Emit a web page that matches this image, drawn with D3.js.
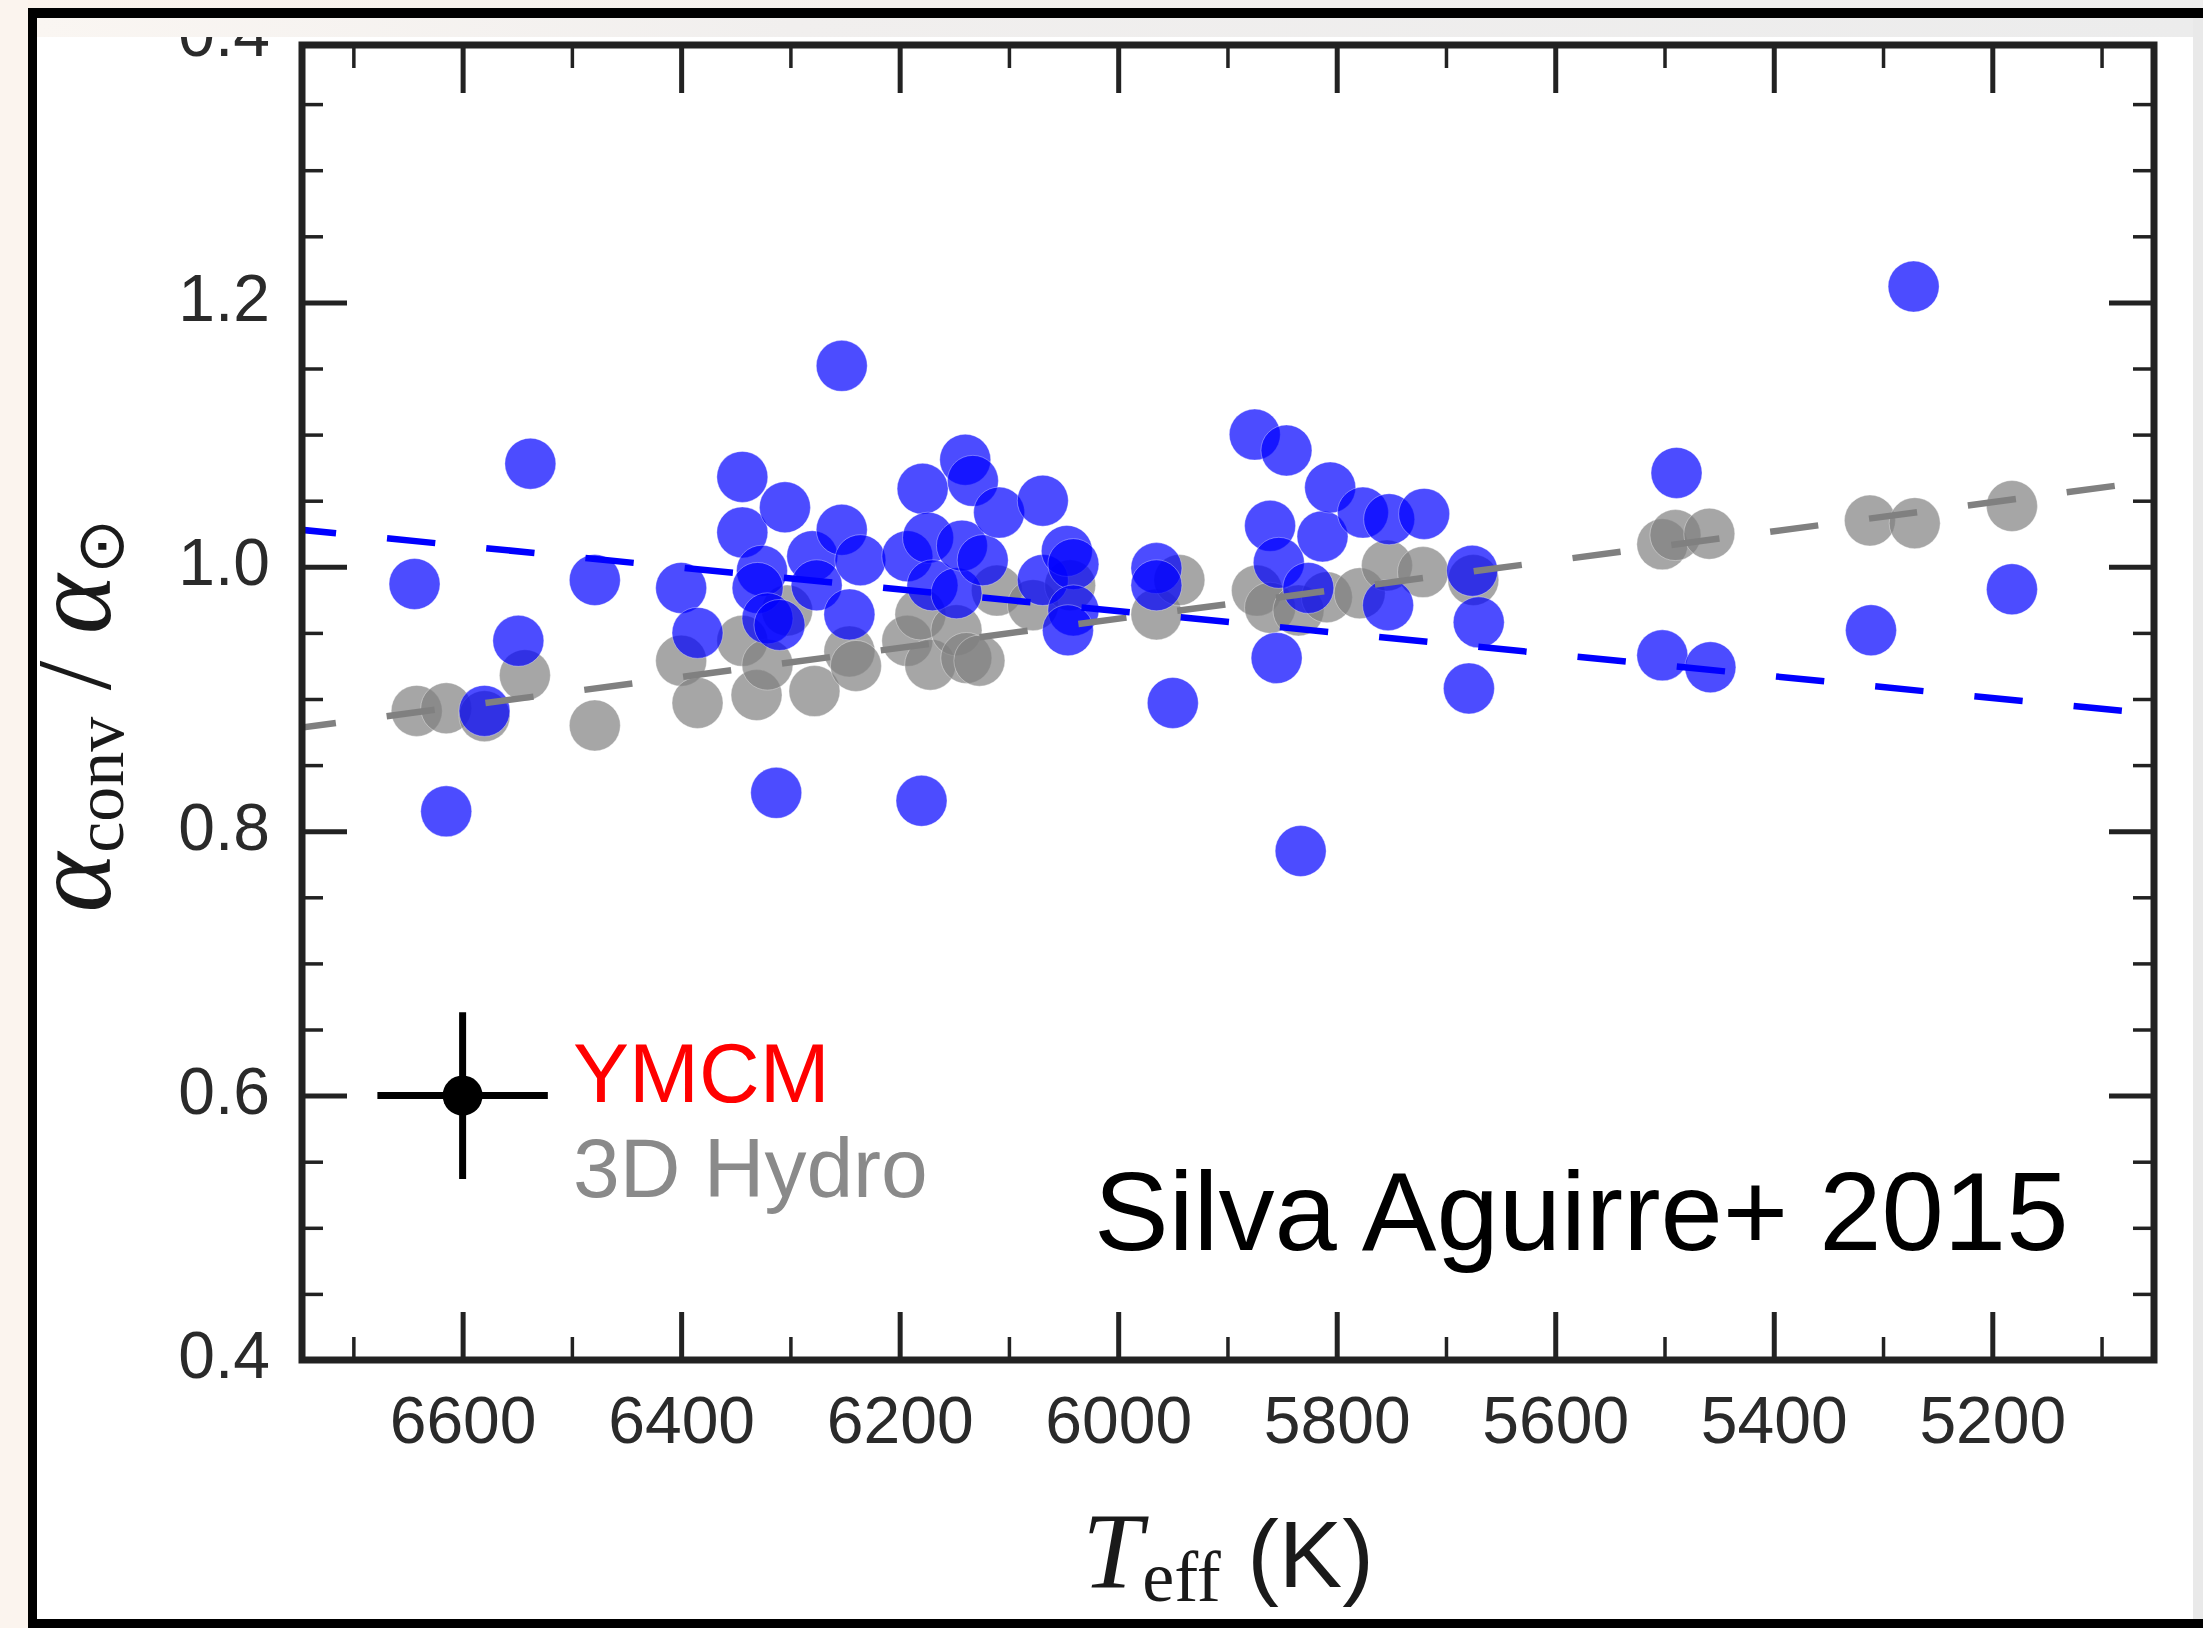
<!DOCTYPE html>
<html>
<head>
<meta charset="utf-8">
<script src="https://cdn.jsdelivr.net/npm/d3@7"></script>
<style>
  body { margin: 0; background: #fff; }
  svg { display: block; }
</style>
</head>
<body>
<svg id="chart" width="2203" height="1628"></svg>
<script>
// Mixing-length parameter relative to solar, against effective temperature (K)
// Blue: YMCM calibration; grey: 3D hydrodynamical simulations.
const ymcmTeff = [6644, 6615, 6580, 6549, 6538, 6479, 6400, 6385, 6344, 6344, 6326, 6330, 6321, 6310,
  6313, 6305, 6280, 6276, 6253, 6236, 6246, 6253, 6193, 6179, 6174, 6170, 6148, 6143, 6140, 6133,
  6124, 6109, 6069, 6069, 6047, 6041, 6041, 6046, 6180, 5965, 5965, 5950, 5875, 5846, 5861, 5853,
  5855, 5833, 5826, 5813, 5806, 5776, 5752, 5720, 5753, 5676, 5670, 5679, 5489, 5502, 5458, 5311,
  5272, 5182];
const ymcmAlpha = [0.987, 0.815, 0.891, 0.944, 1.078, 0.990, 0.984, 0.950, 1.068, 1.026, 0.997, 0.984, 0.961, 0.956,
  0.829, 1.045, 1.008, 0.986, 1.028, 1.005, 0.964, 1.152, 1.008, 1.059, 1.022, 0.986, 0.980, 1.016, 1.081, 1.065,
  1.005, 1.041, 1.050, 0.990, 1.012, 1.002, 0.967, 0.952, 0.823, 0.999, 0.986, 0.897, 1.100, 1.088, 1.031, 1.003,
  0.931, 0.785, 0.984, 1.023, 1.060, 1.041, 1.036, 1.040, 0.971, 0.997, 0.958, 0.908, 1.071, 0.933, 0.924, 0.952,
  1.212, 0.983];

const hydroTeff = [6642, 6615, 6580, 6543, 6479, 6400, 6385, 6344, 6331, 6321, 6303, 6278, 6246, 6240,
  6193, 6181, 6172, 6148, 6139, 6127, 6111, 6078, 6044, 5965, 5944, 5873, 5861, 5835, 5809, 5779,
  5754, 5721, 5675, 5502, 5490, 5459, 5312, 5271, 5182];
const hydroAlpha = [0.891, 0.893, 0.887, 0.918, 0.880, 0.929, 0.897, 0.944, 0.903, 0.926, 0.967, 0.906, 0.936, 0.925,
  0.944, 0.964, 0.926, 0.952, 0.931, 0.929, 0.982, 0.971, 0.986, 0.964, 0.990, 0.982, 0.969, 0.967, 0.977, 0.980,
  1.001, 0.996, 0.990, 1.017, 1.024, 1.025, 1.035, 1.033, 1.046];

// Linear fits (end points)
const fitTeff = [6760, 5081];
const ymcmFit = [1.029, 0.891];
const hydroFit = [0.877, 1.062];

// Typical uncertainty shown in the legend
const errTeff = 6600, errAlpha = 0.6, errDTeff = 78, errDAlpha = 0.063;

const xTickValues = [6600, 6400, 6200, 6000, 5800, 5600, 5400, 5200];
const xTickLabels = ["6600", "6400", "6200", "6000", "5800", "5600", "5400", "5200"];
const xMinorValues = [6700, 6500, 6300, 6100, 5900, 5700, 5500, 5300, 5100];
const yTickValues = [0.4, 0.6, 0.8, 1.0, 1.2, 1.4];
const yTickLabels = ["0.4", "0.6", "0.8", "1.0", "1.2", "0.4"];
const yMinorValues = [0.45, 0.5, 0.55, 0.65, 0.7, 0.75, 0.85, 0.9, 0.95, 1.05, 1.1, 1.15, 1.25, 1.3, 1.35];

const svg = d3.select("#chart");
const W = 2203, H = 1628;
const plot = { left: 302, right: 2154, top: 45, bottom: 1360 };

const x = d3.scaleLinear().domain([6747, 5052]).range([plot.left, plot.right]);
const y = d3.scaleLinear().domain([0.4, 1.4]).range([plot.bottom, 38]);

const sans = "'Liberation Sans', Arial, Helvetica, sans-serif";
const serif = "'Liberation Serif', 'Times New Roman', serif";
const axisColor = "#222";

// ---------- page background and outer frame ----------
const defs = svg.append("defs");
const g1 = defs.append("linearGradient").attr("id", "topband").attr("x1", 0).attr("x2", 1).attr("y1", 0).attr("y2", 0);
g1.append("stop").attr("offset", "0").attr("stop-color", "#faf6f2");
g1.append("stop").attr("offset", "0.35").attr("stop-color", "#f1efee");
g1.append("stop").attr("offset", "1").attr("stop-color", "#ececec");
const g2 = defs.append("linearGradient").attr("id", "topstrip").attr("x1", 0).attr("x2", 1).attr("y1", 0).attr("y2", 0);
g2.append("stop").attr("offset", "0").attr("stop-color", "#fbf3ec");
g2.append("stop").attr("offset", "0.4").attr("stop-color", "#f4f1ee");
g2.append("stop").attr("offset", "1").attr("stop-color", "#eeeeee");
defs.append("clipPath").attr("id", "plotclip").append("rect")
  .attr("x", plot.left).attr("y", plot.top).attr("width", plot.right - plot.left).attr("height", plot.bottom - plot.top);

svg.append("rect").attr("width", W).attr("height", H).attr("fill", "#fbf4ee");
svg.append("rect").attr("x", 28).attr("y", 0).attr("width", W - 28).attr("height", 9).attr("fill", "url(#topstrip)");
svg.append("rect").attr("x", 37).attr("y", 18).attr("width", W - 37).attr("height", 1601).attr("fill", "#fff");
svg.append("rect").attr("x", 2193).attr("y", 18).attr("width", 10).attr("height", 1601).attr("fill", "#e9e9e9");

// ---------- data layers ----------
const dataLayer = svg.append("g").attr("clip-path", "url(#plotclip)");

const hydro = hydroTeff.map((t, i) => ({ t, a: hydroAlpha[i] }));
const ymcm = ymcmTeff.map((t, i) => ({ t, a: ymcmAlpha[i] }));

dataLayer.append("g").selectAll("circle").data(hydro).join("circle")
  .attr("cx", d => x(d.t)).attr("cy", d => y(d.a)).attr("r", 25.5)
  .attr("fill", "#808080").attr("fill-opacity", 0.7)
  .attr("stroke", "#fff").attr("stroke-opacity", 0.35).attr("stroke-width", 1);

dataLayer.append("g").selectAll("circle").data(ymcm).join("circle")
  .attr("cx", d => x(d.t)).attr("cy", d => y(d.a)).attr("r", 25.5)
  .attr("fill", "#0000ff").attr("fill-opacity", 0.7)
  .attr("stroke", "#fff").attr("stroke-opacity", 0.35).attr("stroke-width", 1);

const line = d3.line().x(d => x(d.t)).y(d => y(d.a));
dataLayer.append("path")
  .datum(fitTeff.map((t, i) => ({ t, a: hydroFit[i] })))
  .attr("d", line).attr("fill", "none").attr("stroke", "#808080")
  .attr("stroke-width", 6.5).attr("stroke-dasharray", "48.5 51.2");
dataLayer.append("path")
  .datum(fitTeff.map((t, i) => ({ t, a: ymcmFit[i] })))
  .attr("d", line).attr("fill", "none").attr("stroke", "#0000ff")
  .attr("stroke-width", 6.5).attr("stroke-dasharray", "48.5 51.2");

// ---------- axes (ticks point inward) ----------
function styleAxis(g, width) {
  g.select(".domain").remove();
  g.selectAll(".tick line").attr("stroke", axisColor).attr("stroke-width", width);
  g.selectAll("text").attr("font-family", sans).attr("font-size", 66).attr("fill", "#2a2a2a");
}

const xb = svg.append("g").attr("transform", `translate(0,${plot.bottom})`)
  .call(d3.axisBottom(x).tickValues(xTickValues).tickSize(-48).tickPadding(36)
    .tickFormat((d, i) => xTickLabels[i]));
styleAxis(xb, 5);
svg.append("g").attr("transform", `translate(0,${plot.bottom})`)
  .call(d3.axisBottom(x).tickValues(xMinorValues).tickSize(-23).tickFormat(""))
  .call(g => styleAxis(g, 3.5));

const xt = svg.append("g").attr("transform", `translate(0,${plot.top})`)
  .call(d3.axisTop(x).tickValues(xTickValues).tickSize(-48).tickFormat(""));
styleAxis(xt, 5);
svg.append("g").attr("transform", `translate(0,${plot.top})`)
  .call(d3.axisTop(x).tickValues(xMinorValues).tickSize(-23).tickFormat(""))
  .call(g => styleAxis(g, 3.5));

const yl = svg.append("g").attr("transform", `translate(${plot.left},0)`)
  .call(d3.axisLeft(y).tickValues(yTickValues).tickSize(-45).tickPadding(32)
    .tickFormat((d, i) => yTickLabels[i]));
styleAxis(yl, 5);
yl.selectAll("text").attr("dy", "0.27em");
yl.selectAll(".tick").filter(d => y(d) < plot.top).select("line").remove();
svg.append("g").attr("transform", `translate(${plot.left},0)`)
  .call(d3.axisLeft(y).tickValues(yMinorValues).tickSize(-21).tickFormat(""))
  .call(g => styleAxis(g, 3.5));

const yr = svg.append("g").attr("transform", `translate(${plot.right},0)`)
  .call(d3.axisRight(y).tickValues(yTickValues.filter(v => y(v) >= plot.top)).tickSize(-45).tickFormat(""));
styleAxis(yr, 5);
svg.append("g").attr("transform", `translate(${plot.right},0)`)
  .call(d3.axisRight(y).tickValues(yMinorValues).tickSize(-21).tickFormat(""))
  .call(g => styleAxis(g, 3.5));

// plot frame
svg.append("rect").attr("x", plot.left).attr("y", plot.top)
  .attr("width", plot.right - plot.left).attr("height", plot.bottom - plot.top)
  .attr("fill", "none").attr("stroke", axisColor).attr("stroke-width", 7);

// band between the outer frame and the plot top (covers the top label's upper half)
svg.append("rect").attr("x", 37).attr("y", 18).attr("width", 2156).attr("height", 19).attr("fill", "url(#topband)");

// outer black frame
svg.append("rect").attr("x", 28).attr("y", 8).attr("width", W - 28).attr("height", 10).attr("fill", "#000");
svg.append("rect").attr("x", 28).attr("y", 8).attr("width", 9).attr("height", H - 8).attr("fill", "#000");
svg.append("rect").attr("x", 28).attr("y", 1619).attr("width", W - 28).attr("height", 9).attr("fill", "#000");

// ---------- axis titles ----------
const xt2 = svg.append("text").attr("x", 1228).attr("y", 1587).attr("text-anchor", "middle")
  .attr("fill", "#1a1a1a");
xt2.append("tspan").attr("font-family", serif).attr("font-style", "italic").attr("font-size", 108).text("T");
xt2.append("tspan").attr("font-family", serif).attr("font-size", 72).attr("dy", 14).text("eff");
xt2.append("tspan").attr("font-family", sans).attr("font-size", 95).attr("dy", -14).text(" (K)");

const ylab = svg.append("text").attr("transform", "translate(110,716) rotate(-90)")
  .attr("text-anchor", "middle").attr("fill", "#1a1a1a").attr("font-family", serif);
ylab.append("tspan").attr("font-style", "italic").attr("font-size", 114).text("α");
ylab.append("tspan").attr("font-size", 70).attr("dy", 13).text("conv");
ylab.append("tspan").attr("font-size", 106).attr("dy", -13).text(" / ");
ylab.append("tspan").attr("font-style", "italic").attr("font-size", 114).text("α");
ylab.append("tspan").attr("font-size", 66).attr("dy", 13).text("⊙");

// ---------- legend ----------
const leg = svg.append("g");
leg.append("line").attr("x1", x(errTeff + errDTeff)).attr("x2", x(errTeff - errDTeff))
  .attr("y1", y(errAlpha)).attr("y2", y(errAlpha)).attr("stroke", "#000").attr("stroke-width", 7);
leg.append("line").attr("x1", x(errTeff)).attr("x2", x(errTeff))
  .attr("y1", y(errAlpha + errDAlpha)).attr("y2", y(errAlpha - errDAlpha)).attr("stroke", "#000").attr("stroke-width", 7);
leg.append("circle").attr("cx", x(errTeff)).attr("cy", y(errAlpha)).attr("r", 20).attr("fill", "#000");

leg.append("text").attr("x", 573).attr("y", 1102).attr("font-family", sans).attr("font-size", 84)
  .attr("fill", "#ff0000").text("YMCM");
leg.append("text").attr("x", 573).attr("y", 1197).attr("font-family", sans).attr("font-size", 84)
  .attr("fill", "#8a8a8a").text("3D Hydro");

svg.append("text").attr("x", 1094).attr("y", 1250).attr("font-family", sans).attr("font-size", 112)
  .attr("fill", "#000").text("Silva Aguirre+ 2015");
</script>
</body>
</html>
